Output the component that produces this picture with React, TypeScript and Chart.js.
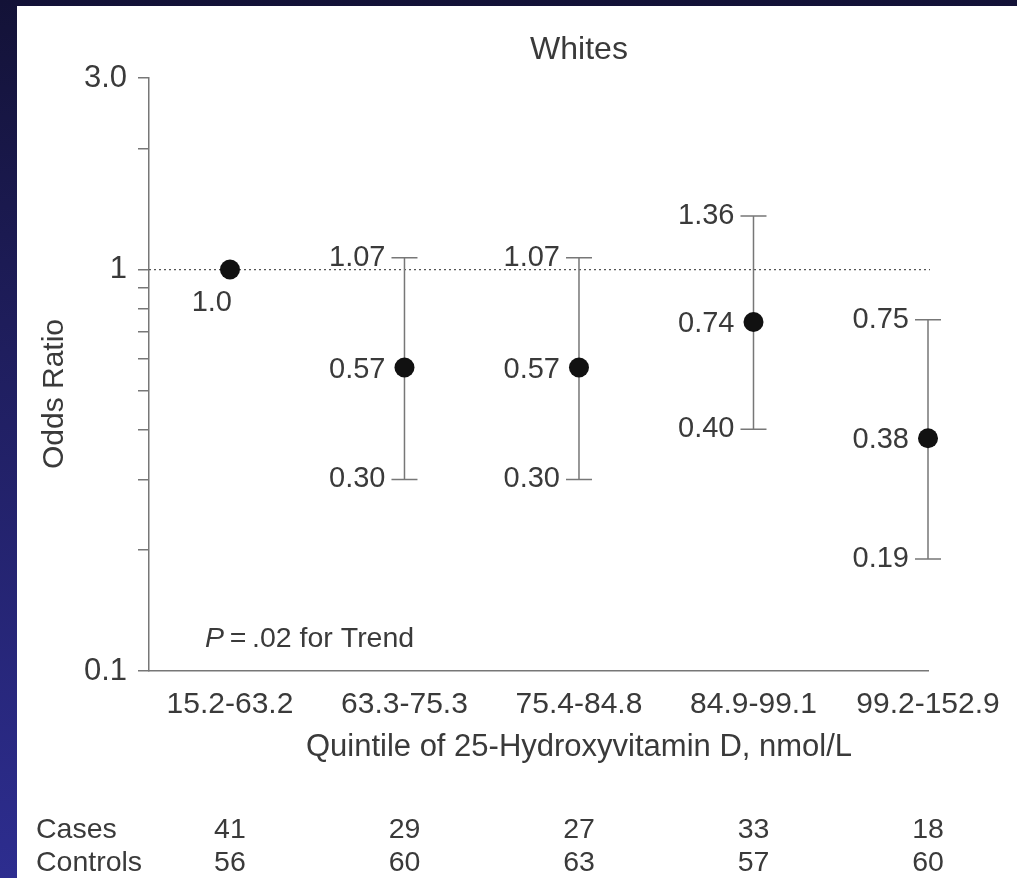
import React, { useEffect, useRef } from 'react';
import { Chart, registerables } from 'chart.js';

Chart.register(...registerables);

// ---------- data ----------
const quintileLabels = ['15.2-63.2', '63.3-75.3', '75.4-84.8', '84.9-99.1', '99.2-152.9'];
const oddsRatios = [1.0, 0.57, 0.57, 0.74, 0.38];
const oddsRatioText = ['1.0', '0.57', '0.57', '0.74', '0.38'];
const ciLower: (number | null)[] = [null, 0.3, 0.3, 0.4, 0.19];
const ciUpper: (number | null)[] = [null, 1.07, 1.07, 1.36, 0.75];
const casesCounts = [41, 29, 27, 33, 18];
const controlsCounts = [56, 60, 63, 57, 60];
const yTickValues = [0.1, 0.2, 0.3, 0.4, 0.5, 0.6, 0.7, 0.8, 0.9, 1, 2, 3];
const yTickLabels: Record<string, string> = { '0.1': '0.1', '1': '1', '3': '3.0' };
const chartTitle = 'Whites';
const yAxisTitle = 'Odds Ratio';
const xAxisTitle = 'Quintile of 25-Hydroxyvitamin D, nmol/L';
const trendP = 'P';
const trendRest = '\u2009=\u2009.02 for Trend';
const rowLabels = ['Cases', 'Controls'];

// ---------- styles ----------
const FONT = '"Liberation Sans", Arial, Helvetica, sans-serif';
const TEXT = '#3a3a3a';
const LINE = '#777777';

const overlayPlugin = {
  id: 'overlay',
  beforeDatasetsDraw(chart: any) {
    const { ctx, chartArea } = chart;
    const xs = chart.scales.x;
    const ys = chart.scales.y;
    ctx.save();
    // reference line at OR = 1
    const y1 = ys.getPixelForValue(1);
    ctx.strokeStyle = '#555555';
    ctx.lineWidth = 1.2;
    ctx.setLineDash([2, 3]);
    ctx.beginPath();
    ctx.moveTo(chartArea.left, y1);
    ctx.lineTo(chartArea.right + 2, y1);
    ctx.stroke();
    ctx.setLineDash([]);
    // error bars
    ctx.strokeStyle = LINE;
    ctx.lineWidth = 1.5;
    oddsRatios.forEach((_, i) => {
      const lo = ciLower[i];
      const hi = ciUpper[i];
      if (lo == null || hi == null) return;
      const px = xs.getPixelForValue(i + 1);
      const pLo = ys.getPixelForValue(lo);
      const pHi = ys.getPixelForValue(hi);
      ctx.beginPath();
      ctx.moveTo(px, pHi);
      ctx.lineTo(px, pLo);
      ctx.moveTo(px - 13, pHi);
      ctx.lineTo(px + 13, pHi);
      ctx.moveTo(px - 13, pLo);
      ctx.lineTo(px + 13, pLo);
      ctx.stroke();
    });
    ctx.restore();
  },
  afterDraw(chart: any) {
    const { ctx } = chart;
    const xs = chart.scales.x;
    const ys = chart.scales.y;
    const cx = xs.getPixelForValue(3);
    ctx.save();
    ctx.fillStyle = TEXT;
    ctx.textBaseline = 'alphabetic';

    // title
    ctx.font = `32px ${FONT}`;
    ctx.textAlign = 'center';
    ctx.fillText(chartTitle, cx, 59);

    // x-axis title
    ctx.font = `31px ${FONT}`;
    ctx.fillText(xAxisTitle, cx, 756);

    // y-axis title
    ctx.font = `30px ${FONT}`;
    ctx.save();
    ctx.translate(63, 394);
    ctx.rotate(-Math.PI / 2);
    ctx.textAlign = 'center';
    ctx.fillText(yAxisTitle, 0, 0);
    ctx.restore();

    // trend note
    ctx.textAlign = 'left';
    ctx.font = `italic 28.5px ${FONT}`;
    ctx.fillText(trendP, 205, 647);
    const pw = ctx.measureText(trendP).width;
    ctx.font = `28.5px ${FONT}`;
    ctx.fillText(trendRest, 205 + pw, 647);

    // value labels
    ctx.font = `29px ${FONT}`;
    ctx.textAlign = 'right';
    oddsRatios.forEach((v, i) => {
      const px = xs.getPixelForValue(i + 1);
      const py = ys.getPixelForValue(v);
      if (ciLower[i] == null) {
        ctx.fillText(oddsRatioText[i], px + 2, py + 41);
        return;
      }
      ctx.fillText(oddsRatioText[i], px - 19, py + 10);
      const hi = ciUpper[i] as number;
      const lo = ciLower[i] as number;
      ctx.fillText(hi.toFixed(2), px - 19, ys.getPixelForValue(hi) + 8);
      ctx.fillText(lo.toFixed(2), px - 19, ys.getPixelForValue(lo) + 8);
    });

    // counts table
    ctx.font = `28.5px ${FONT}`;
    ctx.textAlign = 'left';
    ctx.fillText(rowLabels[0], 36, 838);
    ctx.fillText(rowLabels[1], 36, 871);
    ctx.textAlign = 'center';
    casesCounts.forEach((c, i) => {
      const px = xs.getPixelForValue(i + 1);
      ctx.fillText(String(c), px, 838);
      ctx.fillText(String(controlsCounts[i]), px, 871);
    });
    ctx.restore();
  },
};

export default function App() {
  const canvasRef = useRef<HTMLCanvasElement | null>(null);

  useEffect(() => {
    const canvas = canvasRef.current;
    if (!canvas) return;
    const chart = new Chart(canvas, {
      type: 'scatter',
      data: {
        datasets: [
          {
            data: oddsRatios.map((v, i) => ({ x: i + 1, y: v })),
            pointRadius: 10,
            pointBackgroundColor: '#111111',
            pointBorderWidth: 0,
            showLine: false,
            clip: false as any,
          },
        ],
      },
      options: {
        animation: false,
        responsive: false,
        events: [],
        layout: { padding: { top: 78, right: 89, left: 0, bottom: 0 } },
        plugins: {
          legend: { display: false },
          tooltip: { enabled: false },
          title: { display: false },
        },
        scales: {
          x: {
            type: 'linear',
            min: 0.536,
            max: 5,
            afterBuildTicks: (scale: any) => {
              scale.ticks = quintileLabels.map((_, i) => ({ value: i + 1 }));
            },
            afterFit: (scale: any) => {
              scale.height = 207;
            },
            grid: { display: false, drawTicks: false },
            border: { display: true, color: LINE, width: 1.5 },
            ticks: {
              autoSkip: false,
              maxRotation: 0,
              minRotation: 0,
              padding: 16,
              color: TEXT,
              font: { family: FONT, size: 30 },
              callback: (v: any) => quintileLabels[Math.round(Number(v)) - 1] ?? '',
            },
          },
          y: {
            type: 'logarithmic',
            min: 0.1,
            max: 3,
            afterBuildTicks: (scale: any) => {
              scale.ticks = yTickValues.map((v) => ({ value: v }));
            },
            afterFit: (scale: any) => {
              scale.width = 149;
            },
            grid: {
              display: true,
              drawOnChartArea: false,
              drawTicks: true,
              tickLength: 11,
              color: LINE,
              lineWidth: 1.5,
            },
            border: { display: true, color: LINE, width: 1.5 },
            ticks: {
              autoSkip: false,
              padding: 11,
              color: TEXT,
              font: { family: FONT, size: 31 },
              callback: (v: any) => yTickLabels[String(v)] ?? '',
            },
          },
        },
      },
      plugins: [overlayPlugin],
    } as any);
    return () => chart.destroy();
  }, []);

  return (
    <div
      style={{
        position: 'absolute',
        left: 0,
        top: 0,
        width: 1017,
        height: 878,
        overflow: 'hidden',
        background: 'linear-gradient(to bottom, #131237 0%, #1f1e5e 40%, #2d2d8f 100%)',
      }}
    >
      <div
        style={{
          position: 'absolute',
          left: 17,
          top: 6,
          right: 0,
          bottom: 0,
          background: '#ffffff',
        }}
      />
      <canvas
        ref={canvasRef}
        width={1017}
        height={878}
        style={{ position: 'absolute', left: 0, top: 0, width: 1017, height: 878, display: 'block' }}
      />
    </div>
  );
}
